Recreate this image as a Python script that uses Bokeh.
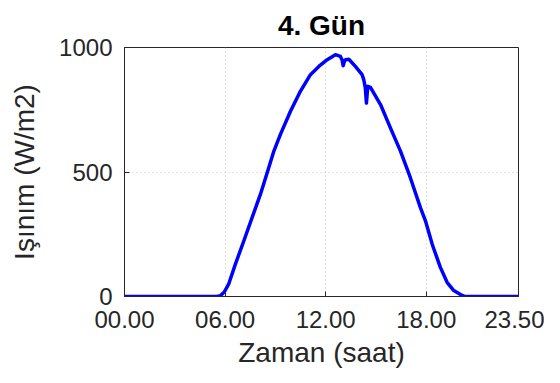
from bokeh.plotting import figure
from bokeh.models import FixedTicker, Range1d
from bokeh.embed import file_html
from bokeh.resources import INLINE

# time (hours) and irradiance (W/m2)
hours = [0.0, 2.0, 4.0, 5.5, 5.72, 5.95, 6.22, 6.62, 7.12, 7.61, 8.11, 8.51, 8.91,
         9.30, 9.90, 10.49, 11.09, 11.59, 12.09, 12.58, 12.88, 12.98, 13.04, 13.12,
         13.18, 13.38, 13.77, 14.17, 14.27, 14.36, 14.43, 14.51, 14.67, 15.27, 15.86,
         16.46, 17.05, 17.65, 17.95, 18.35, 18.45, 18.84, 19.24, 19.64, 20.04, 20.3,
         21.0, 22.0, 23.5]
irradiance = [0, 0, 0, 0, 3, 18, 51, 131, 224, 317, 411, 497, 584,
              651, 744, 824, 891, 924, 951, 971, 964, 950, 927, 945,
              951, 953, 924, 891, 871, 840, 777, 844, 840, 771, 677,
              584, 477, 357, 304, 211, 191, 117, 57, 24, 8, 0,
              0, 0, 0]

x_ticks = [0, 6, 12, 18, 23.5]
x_tick_labels = ["00.00", "06.00", "12.00", "18.00", "23.50"]
y_ticks = [0, 500, 1000]

title_text = "4. Gün"
x_label = "Zaman (saat)"
y_label = "Işınım (W/m2)"

FONT = "Liberation Sans"
TXT = "#262626"

p = figure(width=544, height=375, output_backend="svg", toolbar_location=None,
           x_range=Range1d(0, 23.5), y_range=Range1d(0, 1000),
           min_border_left=124, min_border_right=26, min_border_top=46, min_border_bottom=79,
           title=title_text)

p.title.align = "center"
p.title.text_font = FONT
p.title.text_font_size = "28px"
p.title.text_font_style = "bold"
p.title.text_color = "#000000"
p.title.standoff = 14

p.line(hours, irradiance, line_color="#0000ff", line_width=3.5, line_join="round")

p.xaxis.ticker = FixedTicker(ticks=x_ticks)
p.xaxis.major_label_overrides = {t: l for t, l in zip(x_ticks, x_tick_labels)}
p.yaxis.ticker = FixedTicker(ticks=y_ticks)

for ax in (p.xaxis[0], p.yaxis[0]):
    ax.major_label_text_font = FONT
    ax.major_label_text_font_size = "24px"
    ax.major_label_text_color = TXT
    ax.axis_label_text_font = FONT
    ax.axis_label_text_font_size = "28px"
    ax.axis_label_text_font_style = "normal"
    ax.axis_label_text_color = TXT
    ax.axis_line_color = TXT
    ax.major_tick_line_color = TXT
    ax.major_tick_in = 5
    ax.major_tick_out = 0
    ax.minor_tick_line_color = None

p.yaxis.major_label_standoff = 12
p.xaxis.major_label_standoff = 14
p.yaxis.axis_label_standoff = 16
p.xaxis.axis_label_standoff = 6

p.xaxis.axis_label = x_label
p.yaxis.axis_label = y_label

p.xgrid.ticker = FixedTicker(ticks=x_ticks)
p.ygrid.ticker = FixedTicker(ticks=y_ticks)
p.grid.grid_line_color = "#c8c8c8"
p.grid.grid_line_dash = "1 3"
p.grid.grid_line_width = 1
p.outline_line_color = TXT
p.background_fill_color = "white"
p.border_fill_color = "white"

open("out.html", "w").write(file_html(p, INLINE))
